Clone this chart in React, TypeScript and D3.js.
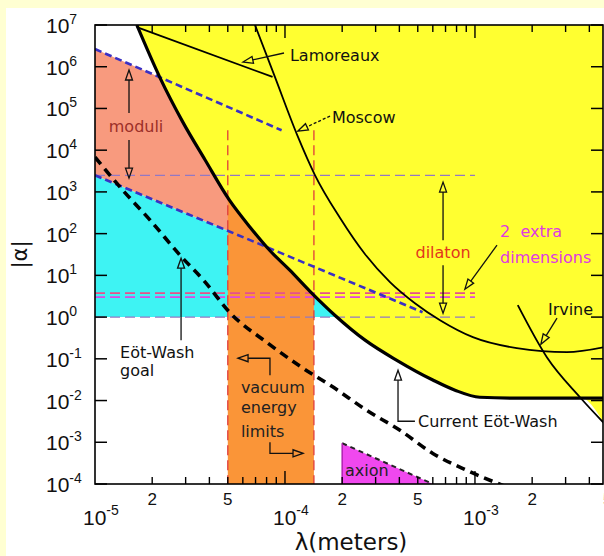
import * as d3 from 'd3';

type Pt = [number, number];

// [lambda (m), |alpha|]
const eotWashCurrent: Pt[] = [
  [1.66e-5, 1e7], [2.2e-5, 5.4e5], [2.9e-5, 4.7e4], [3.8e-5, 5.8e3], [5.1e-5, 635],
  [6.55e-5, 143], [8.3e-5, 40], [1.06e-4, 13.3], [1.35e-4, 4.2], [1.83e-4, 1.11],
  [2.64e-4, 0.28], [3.88e-4, 0.092], [6.0e-4, 0.031], [7.85e-4, 0.0177],
  [1.06e-3, 0.012], [1.73e-3, 0.0114], [4.78e-3, 0.0114],
];
const eotWashGoal: Pt[] = [
  [1e-5, 6.8e3], [1.4e-5, 1.1e3], [1.95e-5, 211], [2.8e-5, 30.5], [3.8e-5, 6.9],
  [5.1e-5, 1.31], [8.0e-5, 0.25], [1.2e-4, 0.0665], [1.79e-4, 0.021], [2.7e-4, 5.8e-3],
  [4.03e-4, 1.94e-3], [6.0e-4, 5.4e-4], [9.1e-4, 2.1e-4], [1.44e-3, 8.8e-5],
];
const moscow: Pt[] = [
  [6.95e-5, 1e7], [8.85e-5, 5.7e5], [1.16e-4, 2.3e4], [1.44e-4, 2.5e3], [1.95e-4, 236],
  [2.64e-4, 32], [3.57e-4, 6.9], [4.83e-4, 2.15], [6.55e-4, 0.84], [9.75e-4, 0.33],
  [1.66e-3, 0.18], [3.05e-3, 0.144], [4.78e-3, 0.19],
];
const irvine: Pt[] = [[1.68e-3, 1.93], [2.39e-3, 0.109], [3.57e-3, 0.012], [4.78e-3, 2.86e-3]];
const lamoreaux: Pt[] = [[1.66e-5, 8.9e6], [8.6e-5, 5.7e5]];
const irvineCross = 3.5e-3;

const moduliUpper: Pt[] = [[1e-5, 2.65e6], [9.6e-5, 3.0e4]];
const moduliLower: Pt[] = [[1e-5, 2.5e3], [5.3e-4, 1.31]];
const moduliFill: Pt[] = [[1e-5, 2.65e6], [9.6e-5, 3.0e4], [1.5e-4, 9e3], [1.5e-4, 14.6], [1e-5, 2.5e3]];
const goalFill: Pt[] = [[1e-5, 2.5e3], [5.3e-4, 1.31], [5.3e-4, 1], [1e-5, 1]];
const vacuumRange = [5e-5, 1.42e-4];
const vacuumTop = 3.0e4;
const axionFill: Pt[] = [[2e-4, 9.5e-4], [6e-4, 1e-4], [2e-4, 1e-4]];

const dilatonLines = [
  { a: 2.5e3, color: '#9378c4', w: 1.2 },
  { a: 3.74, color: '#e8508a', w: 1.8 },
  { a: 3.0, color: '#e048e0', w: 1.8 },
  { a: 1, color: '#9378c4', w: 1.2 },
];
const dilatonEnd = 1e-3;

const yExps = [7, 6, 5, 4, 3, 2, 1, 0, -1, -2, -3, -4];
const xExps = [-5, -4, -3];
const xMinorLabels = [2e-5, 5e-5, 2e-4, 5e-4, 2e-3, 5e-3];

// annotation positions in [log10 lambda, log10 alpha]
const labels = [
  { t: 'Lamoreaux', p: [-3.974, 6.137], c: '#111', a: 'start' },
  { t: 'Moscow', p: [-3.753, 4.65], c: '#111', a: 'start' },
  { t: 'moduli', p: [-4.784, 4.434], c: '#9c2f28', a: 'middle' },
  { t: 'dilaton', p: [-3.168, 1.413], c: '#e2361c', a: 'middle' },
  { t: '2  extra', p: [-2.868, 1.916], c: '#e03ae0', a: 'start' },
  { t: 'dimensions', p: [-2.868, 1.293], c: '#e03ae0', a: 'start' },
  { t: 'Irvine', p: [-2.616, 0.046], c: '#111', a: 'start' },
  { t: 'Eöt-Wash', p: [-4.868, -0.986], c: '#111', a: 'start' },
  { t: 'goal', p: [-4.868, -1.417], c: '#111', a: 'start' },
  { t: 'Current Eöt-Wash', p: [-3.3, -2.64], c: '#111', a: 'start' },
  { t: 'vacuum', p: [-4.232, -1.825], c: '#222', a: 'start' },
  { t: 'energy', p: [-4.232, -2.305], c: '#222', a: 'start' },
  { t: 'limits', p: [-4.232, -2.88], c: '#222', a: 'start' },
  { t: 'axion', p: [-3.684, -3.815], c: '#222', a: 'start' },
];
const arrows: { pts: Pt[]; dash?: boolean }[] = [
  { pts: [[-4.005, 6.329], [-4.221, 6.113]] },
  { pts: [[-3.763, 4.818], [-3.932, 4.458]], dash: true },
  { pts: [[-4.821, 4.89], [-4.821, 5.921]] },
  { pts: [[-4.821, 4.242], [-4.821, 3.33]] },
  { pts: [[-3.168, 1.844], [-3.168, 3.235]] },
  { pts: [[-3.168, 1.245], [-3.168, 0.094]] },
  { pts: [[-2.884, 1.724], [-3.053, 0.669]] },
  { pts: [[-2.568, -0.026], [-2.653, -0.65]] },
  { pts: [[-4.547, -0.554], [-4.547, 1.412]] },
  { pts: [[-3.316, -2.496], [-3.405, -2.496], [-3.405, -1.273]] },
  { pts: [[-4.079, -1.393], [-4.079, -0.986], [-4.247, -0.986]] },
  { pts: [[-4.079, -3.0], [-4.079, -3.264], [-3.905, -3.264]] },
];

export default function App() {
  const W = 604, H = 556;
  const m = { left: 95, right: 603, top: 25, bottom: 484 };
  const x = d3.scaleLog().domain([1e-5, 4.72e-3]).range([m.left, m.right]);
  const y = d3.scaleLog().domain([1e-4, 1e7]).range([m.bottom, m.top]);
  const pe = (e: number[]): Pt => [x(10 ** e[0]), y(10 ** e[1])];

  const smooth = d3.line<Pt>().x(d => x(d[0])).y(d => y(d[1])).curve(d3.curveMonotoneX);
  const straight = d3.line<Pt>().x(d => x(d[0])).y(d => y(d[1]));

  const yellowEdge = eotWashCurrent.filter(p => p[0] < irvineCross)
    .concat(irvine.filter(p => p[0] >= irvineCross));
  const yellowArea = d3.area<Pt>()
    .x(d => x(d[0])).y0(m.top).y1(d => y(d[1]))
    .curve(d3.curveMonotoneX)(yellowEdge) as string;

  const arrowPath = (pts: Pt[]) => {
    const s = pts.map(pe);
    const tip = s[s.length - 1], from = s[s.length - 2];
    const dx = tip[0] - from[0], dy = tip[1] - from[1];
    const L = Math.hypot(dx, dy), ux = dx / L, uy = dy / L;
    const len = 10, hw = 3.5;
    const bx = tip[0] - ux * len, by = tip[1] - uy * len;
    const shaft = s.slice(0, -1).concat([[bx, by]]);
    const head = `M${tip[0]},${tip[1]}L${bx - uy * hw},${by + ux * hw}L${bx + uy * hw},${by - ux * hw}Z`;
    return { shaft: 'M' + shaft.map(p => p.join(',')).join('L'), head };
  };

  const minorTicks: { v: number; major: boolean }[] = [];
  xExps.forEach(e => {
    for (let k = 1; k <= 9; k++) {
      const v = k * 10 ** e;
      if (v > 1e-5 && v < 4.72e-3) minorTicks.push({ v, major: k === 1 });
    }
  });

  const annFont = '"DejaVu Sans", sans-serif';
  const numFont = '"Liberation Sans", Arial, sans-serif';

  return (
    <svg width={W} height={H} style={{ position: 'absolute', left: 0, top: 0 }}>
      <defs>
        <clipPath id="plot">
          <rect x={m.left} y={m.top} width={m.right - m.left} height={m.bottom - m.top} />
        </clipPath>
      </defs>
      <rect width={W} height={H} fill="#ffffd2" />
      <rect x={6} y={8} width={W - 6} height={H - 8} fill="#fff" />

      <g clipPath="url(#plot)">
        {/* regions */}
        <path d={straight(goalFill) as string} fill="#3ef3f3" />
        <path d={straight(moduliFill) as string} fill="#f89a7e" />
        <rect x={x(vacuumRange[0])} y={y(vacuumTop)} width={x(vacuumRange[1]) - x(vacuumRange[0])}
          height={m.bottom - y(vacuumTop)} fill="#fa9538" />
        <path d={straight(axionFill) as string} fill="#f048ee" />
        <path d={yellowArea} fill="#ffff30" />

        {/* dashed constraint lines */}
        {dilatonLines.map((l, i) => (
          <line key={i} x1={x(1e-5)} x2={x(dilatonEnd)} y1={y(l.a)} y2={y(l.a)}
            stroke={l.color} strokeWidth={l.w} strokeDasharray="10,5" />
        ))}
        {vacuumRange.map((v, i) => (
          <line key={i} x1={x(v)} x2={x(v)} y1={y(vacuumTop)} y2={m.bottom}
            stroke="#e03c3c" strokeWidth={1.3} strokeDasharray="10,5" />
        ))}
        <path d={straight(moduliUpper) as string} fill="none" stroke="#3a30c4" strokeWidth={2.6} strokeDasharray="7,4" />
        <path d={straight(moduliLower) as string} fill="none" stroke="#3a30c4" strokeWidth={2.6} strokeDasharray="7,4" />
        <path d={straight([axionFill[0], axionFill[1]]) as string} fill="none" stroke="#222" strokeWidth={2} strokeDasharray="5,4" />
        <line x1={x(axionFill[0][0])} x2={x(axionFill[0][0])} y1={y(axionFill[0][1])} y2={m.bottom} stroke="#b020b0" strokeWidth={1.5} />

        {/* experimental curves */}
        <path d={smooth(lamoreaux) as string} fill="none" stroke="#000" strokeWidth={1.8} />
        <path d={smooth(moscow) as string} fill="none" stroke="#000" strokeWidth={1.8} />
        <path d={smooth(irvine) as string} fill="none" stroke="#000" strokeWidth={1.8} />
        <path d={smooth(eotWashCurrent) as string} fill="none" stroke="#000" strokeWidth={3.2} />
        <path d={smooth(eotWashGoal) as string} fill="none" stroke="#000" strokeWidth={3.6} strokeDasharray="9,6" />
      </g>

      {/* annotations */}
      {arrows.map((a, i) => {
        const { shaft, head } = arrowPath(a.pts);
        return (
          <g key={i} stroke="#111" strokeWidth={1.3} fill="none">
            <path d={shaft} strokeDasharray={a.dash ? '3,2' : undefined} />
            <path d={head} />
          </g>
        );
      })}
      {labels.map((l, i) => {
        const [lx, ly] = pe(l.p);
        return (
          <text key={i} x={lx} y={ly} fill={l.c} fontFamily={annFont} fontSize={16}
            textAnchor={l.a as any} style={{ whiteSpace: 'pre' }}>{l.t}</text>
        );
      })}

      {/* frame and ticks */}
      <rect x={m.left} y={m.top} width={m.right - m.left} height={m.bottom - m.top}
        fill="none" stroke="#000" strokeWidth={1.6} />
      {yExps.map(e => (
        <g key={e}>
          <line x1={m.left} x2={m.left + 12} y1={y(10 ** e)} y2={y(10 ** e)} stroke="#000" strokeWidth={1.5} />
          <line x1={m.right} x2={m.right - 12} y1={y(10 ** e)} y2={y(10 ** e)} stroke="#000" strokeWidth={1.5} />
          <text x={46} y={y(10 ** e) + 8} fontFamily={numFont} fontSize={21} fill="#111">
            10<tspan dy={-9} fontSize={14}>{e}</tspan>
          </text>
        </g>
      ))}
      {minorTicks.map((t, i) => (
        <g key={i}>
          <line x1={x(t.v)} x2={x(t.v)} y1={m.bottom} y2={m.bottom - (t.major ? 13 : 7)} stroke="#000" strokeWidth={1.4} />
          <line x1={x(t.v)} x2={x(t.v)} y1={m.top} y2={m.top + (t.major ? 13 : 7)} stroke="#000" strokeWidth={1.4} />
        </g>
      ))}
      {xExps.map(e => (
        <text key={e} x={x(10 ** e) - 12} y={525} fontFamily={numFont} fontSize={21} fill="#111">
          10<tspan dy={-10} fontSize={14}>{e}</tspan>
        </text>
      ))}
      {xMinorLabels.map((v, i) => (
        <text key={i} x={x(v)} y={505} textAnchor="middle" fontFamily={numFont} fontSize={17} fill="#111">
          {String(Math.round(v / 10 ** Math.floor(Math.log10(v))))}
        </text>
      ))}

      <text x={(m.left + m.right) / 2 + 2} y={550} textAnchor="middle" fontFamily={annFont} fontSize={23} fill="#111">λ(meters)</text>
      <text transform={`translate(27,${(m.top + m.bottom) / 2})rotate(-90)`} textAnchor="middle"
        fontFamily={annFont} fontSize={21} fill="#111">|α|</text>
    </svg>
  );
}
